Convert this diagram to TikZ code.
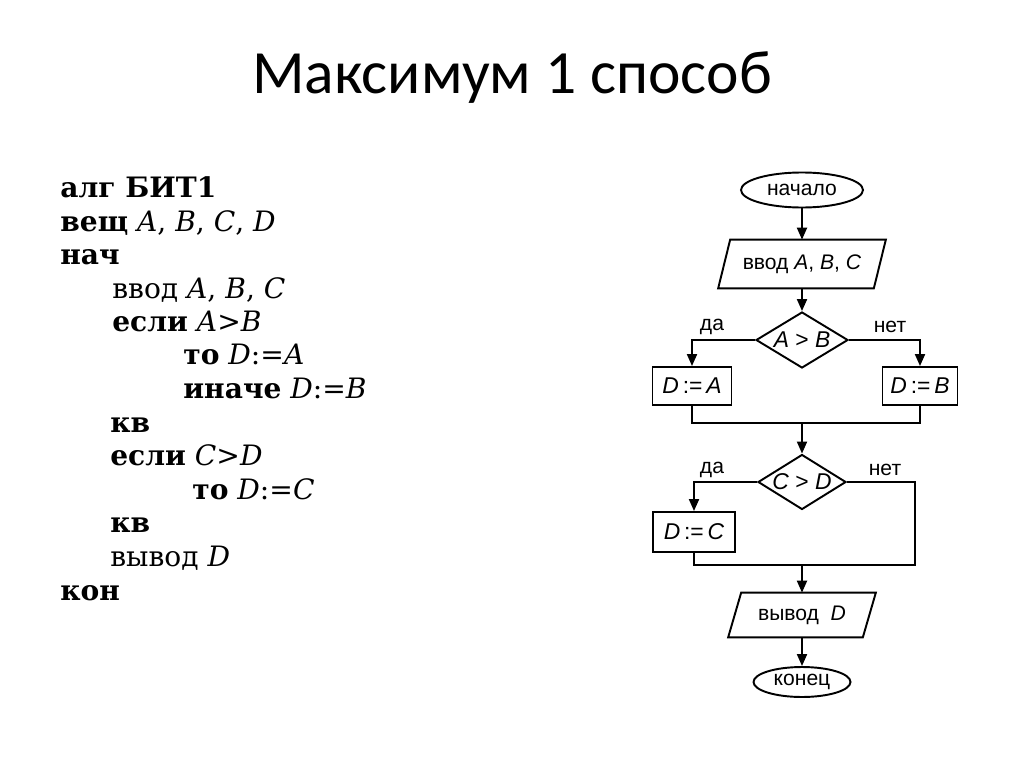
\documentclass[tikz,border=0pt]{standalone}
\usepackage{fontspec}
\setmainfont{DejaVu Serif}
\newfontfamily\flowfont{Liberation Sans}
\newfontfamily\titlefont{Carlito}
\usetikzlibrary{arrows.meta,positioning,shapes.geometric,calc}

\begin{document}
\begin{tikzpicture}[x=0.02cm,y=-0.02cm,
    every node/.style={inner sep=0pt},
    term/.style={ellipse,draw,line width=1.1pt,font=\flowfont\fontsize{12}{14}\selectfont},
    io/.style={rectangle,font=\flowfont\fontsize{12}{14}\selectfont},
    proc/.style={rectangle,draw,line width=1.1pt,minimum height=0.76cm,font=\flowfont\fontsize{13}{15}\selectfont},
    cond/.style={diamond,draw,line width=1.1pt,aspect=1.6,font=\flowfont\fontsize{13}{15}\selectfont},
    lbl/.style={font=\flowfont\fontsize{12}{14}\selectfont},
    code/.style={anchor=base west,font=\fontsize{16}{19}\selectfont},
    flow/.style={line width=1.1pt,-{Triangle[length=2.4mm,width=2mm]}},
    link/.style={line width=1.1pt}]
  \useasboundingbox[fill=white] (0,0) rectangle (1024,767);

  % title
  \node[anchor=base,font=\titlefont\fontsize{35}{40}\selectfont] (title) at (512,93) {Максимум 1 способ};

  % algorithm text
  \node[code] (c1) at (60,197) {\textbf{алг БИТ1}};
  \node[code] (c2) at (60,231) {\textbf{вещ} \textit{A}, \textit{B}, \textit{C}, \textit{D}};
  \node[code] (c3) at (60,264) {\textbf{нач}};
  \node[code] (c4) at (112,298) {ввод \textit{A}, \textit{B}, \textit{C}};
  \node[code] (c5) at (112,331) {\textbf{если} \textit{A}>\textit{B}};
  \node[code] (c6) at (183,364) {\textbf{то} \textit{D}:=\textit{A}};
  \node[code] (c7) at (183,398) {\textbf{иначе} \textit{D}:=\textit{B}};
  \node[code] (c8) at (110,432) {\textbf{кв}};
  \node[code] (c9) at (110,465) {\textbf{если} \textit{C}>\textit{D}};
  \node[code] (c10) at (192,499) {\textbf{то} \textit{D}:=\textit{C}};
  \node[code] (c11) at (110,532) {\textbf{кв}};
  \node[code] (c12) at (110,566) {вывод \textit{D}};
  \node[code] (c13) at (60,600) {\textbf{кон}};

  % flowchart
  \node[term,minimum width=2.44cm,minimum height=0.7cm] (start) at (802,190) {начало};
  \node[io,minimum width=3.1cm,minimum height=0.96cm] (in) at (802,264) {ввод \textit{A}, \textit{B}, \textit{C}};
  \node[cond,minimum width=1.84cm,minimum height=1.12cm] (ifAB) at (802,340) {\textit{A} > \textit{B}};
  \node[proc,minimum width=1.58cm] (DA) at (692,386) {\textit{D}\,:=\,\textit{A}};
  \node[proc,minimum width=1.5cm] (DB) at (920,386) {\textit{D}\,:=\,\textit{B}};
  \node[cond,minimum width=1.76cm,minimum height=1.1cm] (ifCD) at (802,482) {\textit{C} > \textit{D}};
  \node[proc,minimum width=1.64cm,minimum height=0.8cm] (DC) at (694,532) {\textit{D}\,:=\,\textit{C}};
  \node[io,minimum width=2.68cm,minimum height=0.88cm] (out) at (802,615) {вывод \ \textit{D}};
  \node[term,minimum width=1.94cm,minimum height=0.6cm] (stop) at (802,682) {конец};

  % slanted input/output boxes
  \draw[link] ($(in.north west)+(6,0)$) -- ($(in.north east)+(6,0)$)
    -- ($(in.south east)+(-6,0)$) -- ($(in.south west)+(-6,0)$) -- cycle;
  \draw[link] ($(out.north west)+(6.5,0)$) -- ($(out.north east)+(6.5,0)$)
    -- ($(out.south east)+(-6.5,0)$) -- ($(out.south west)+(-6.5,0)$) -- cycle;

  \coordinate (m1) at (802,423);
  \coordinate (m2) at (802,565);
  \coordinate (r2) at (915,565);

  \node[lbl] (yes1) at (712,327) {да};
  \node[lbl] (no1) at (890,327) {нет};
  \node[lbl] (yes2) at (712,470) {да};
  \node[lbl] (no2) at (885,470) {нет};

  \draw[flow] (start) -- (in);
  \draw[flow] (in) -- (ifAB);
  \draw[flow] (ifAB.west) -| (DA.north);
  \draw[flow] (ifAB.east) -| (DB.north);
  \draw[link] (DA.south) |- (m1) -| (DB.south);
  \draw[flow] (m1) -- (ifCD.north);
  \draw[flow] (ifCD.west) -| (DC.north);
  \draw[link] (ifCD.east) -| (r2) -| (DC.south);
  \draw[flow] (m2) -- (out);
  \draw[flow] (out) -- (stop);
\end{tikzpicture}
\end{document}
